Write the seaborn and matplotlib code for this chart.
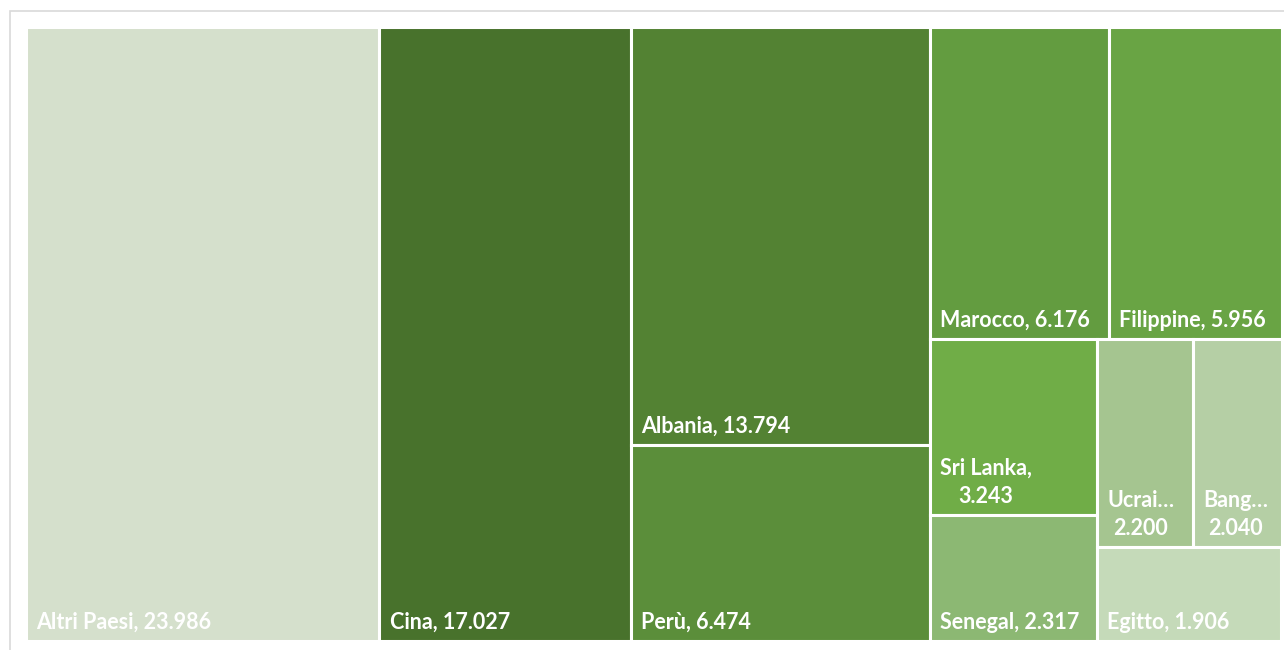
import matplotlib
matplotlib.use("Agg")
import matplotlib.pyplot as plt
from matplotlib.patches import Rectangle
import seaborn as sns

# data (Italian thousands separator)
countries = ["Altri Paesi", "Cina", "Albania", "Perù", "Marocco", "Filippine",
             "Sri Lanka", "Senegal", "Ucrai…", "Bang…", "Egitto"]
values = [23986, 17027, 13794, 6474, 6176, 5956, 3243, 2317, 2200, 2040, 1906]
colors = ["#d5e0cc", "#48722c", "#538233", "#5b8e3a", "#639c40", "#69a444",
          "#70ad47", "#8cb873", "#a5c590", "#b5cfa5", "#c5dab9"]


def worst(row, side):
    s = sum(row)
    return max(max(side * side * r / (s * s), s * s / (side * side * r)) for r in row)


def squarify(areas, x, y, w, h):
    rects = []
    items = list(areas)
    while items:
        side = min(w, h)
        row = [items[0]]
        i = 1
        while i < len(items) and worst(row + [items[i]], side) <= worst(row, side):
            row.append(items[i])
            i += 1
        items = items[i:]
        if w >= h:
            t = sum(row) / h
            yy = y
            for a in row:
                rects.append((x, yy, t, a / t))
                yy += a / t
            x += t
            w -= t
        else:
            t = sum(row) / w
            xx = x
            for a in row:
                rects.append((xx, y, a / t, t))
                xx += a / t
            y += t
            h -= t
    return rects


def fmt(v):
    return f"{v:,}".replace(",", ".")


sns.set_theme(style="white")
plt.rcParams["font.family"] = ["Lato", "DejaVu Sans"]

W, H = 265.0, 100.0
total = sum(values)
areas = [v / total * W * H for v in values]
rects = squarify(areas, 0, 0, W, H)

fig = plt.figure(figsize=(12.84, 6.5), dpi=100)
ax = fig.add_axes([25.5 / 1284, 9 / 650, 1256 / 1284, 614 / 650])
ax.set_xlim(0, W)
ax.set_ylim(H, 0)
ax.axis("off")

fig.canvas.draw()
renderer = fig.canvas.get_renderer()
px_per_x = ax.bbox.width / W

for (x, y, w, h), name, v, c in zip(rects, countries, values, colors):
    ax.add_patch(Rectangle((x, y), w, h, facecolor=c, edgecolor="white", linewidth=2.2))
    label = f"{name}, {fmt(v)}"
    t = ax.annotate(label, (x, y + h), xytext=(7.5, 6.0), textcoords="offset points",
                    ha="left", va="bottom", color="white", fontsize=15.5,
                    fontweight="bold", multialignment="center", linespacing=1.45)
    tw = t.get_window_extent(renderer).width
    if tw + 20 > w * px_per_x:
        t.set_text(f"{name},\n{fmt(v)}" if "…" not in name else f"{name}\n{fmt(v)}")

# light outer frame
fig.add_artist(Rectangle((9.5 / 1284, -0.1), 1.2, 1 - 11.5 / 650 + 0.1,
                         transform=fig.transFigure, fill=False,
                         edgecolor="#d9d9d9", linewidth=1.2, zorder=0))

fig.savefig("out.png", dpi=100)
